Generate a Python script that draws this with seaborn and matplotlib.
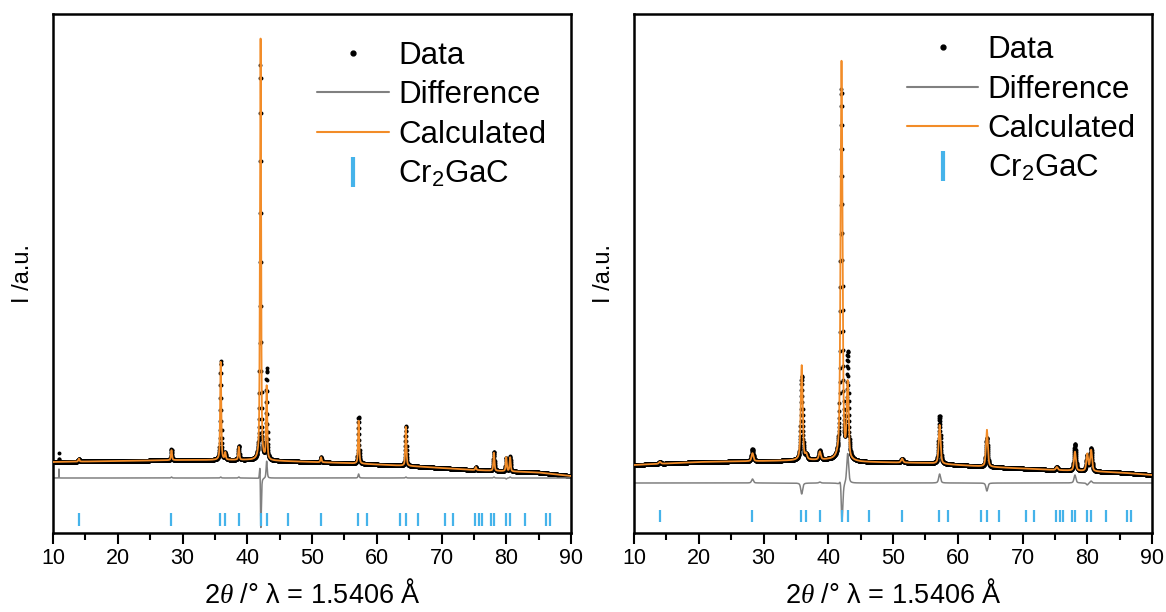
import numpy as np
import pandas as pd
import matplotlib
matplotlib.use("Agg")
import matplotlib.pyplot as plt
from matplotlib.lines import Line2D
from matplotlib.ticker import MultipleLocator
import seaborn as sns

# ---------------- data ----------------
two_theta_range = (10, 90)
step = 0.02

# background levels (a.u.) at knots
bg_knots = [10, 20, 30, 40, 45, 55, 65, 75, 85, 90]
bg_left = [71, 72, 73, 73, 72, 70, 67, 63, 60.5, 57]
bg_right = [68, 71, 72, 73, 71, 70, 66, 63, 60.5, 58]

# observed / calculated peaks (position in 2theta, height above background)
peak_pos = [14.0, 28.3, 35.9, 36.6, 38.7, 42.05, 43.0, 51.4, 57.2, 64.5, 75.3, 78.1, 80.0, 80.6]
calc_left = [3, 10, 98, 7, 13, 425, 73, 5, 43, 39, 3, 18, 14, 14]
obs_pos_left = [14.0, 28.3, 35.9, 36.6, 38.7, 42.04, 43.0, 51.4, 57.2, 64.5, 75.3, 78.1, 80.0, 80.6, 10.92]
obs_left = [3, 11, 99, 7, 14, 395, 90, 5, 47, 40, 3, 19, 13, 15, 9]
calc_right = [2, 8, 95, 5, 8, 400, 75, 4, 39, 37, 3, 19, 17, 21]
obs_pos_right = [14.0, 28.3, 35.9, 36.6, 38.7, 42.04, 43.0, 51.4, 57.2, 64.5, 75.3, 78.1, 80.0, 80.6]
obs_right = [2, 12, 84, 5, 9, 370, 105, 4, 48, 29, 3, 27, 15, 23]
fwhm_left = 0.20
fwhm_right = 0.34
diff_offset_left = 55
diff_offset_right = 50

# Cr2GaC reflection positions
refl_pos = [13.95, 28.25, 35.85, 36.55, 38.65, 42.05, 43.0, 46.3, 51.35, 57.15, 58.5,
            63.6, 64.45, 66.3, 70.5, 71.7, 75.25, 75.8, 76.3, 77.65, 78.15, 80.0,
            80.6, 82.9, 86.2, 86.7]
refl_span_left = (7.5, 20)
refl_span_right = (10.8, 23.3)

ORANGE = "#F28C28"
GREY = "#808080"
BLUE = "#45B3EA"


def profile(x, pos, hts, fwhm, bg):
    y = np.interp(x, bg_knots, bg).astype(float)
    for p, h in zip(pos, hts):
        w = fwhm if p > 11 else 0.03
        g = np.exp(-4 * np.log(2) * ((x - p) / w) ** 2)
        l = 1.0 / (1.0 + 4 * ((x - p) / w) ** 2)
        y += h * (0.5 * g + 0.5 * l)
    return y


def build(bg, obs_pos, obs_h, calc_h, fwhm, off):
    x = np.arange(two_theta_range[0], two_theta_range[1] + step / 2, step)
    calc = profile(x, peak_pos, calc_h, fwhm, bg)
    obs = profile(x, obs_pos, obs_h, fwhm, bg)
    return pd.DataFrame({"two_theta": x, "obs": obs, "calc": calc, "diff": obs - calc + off})


sns.set_theme(style="ticks")
plt.rcParams["font.family"] = ["Liberation Sans", "DejaVu Sans"]
plt.rcParams["mathtext.fontset"] = "custom"
plt.rcParams["mathtext.rm"] = "Liberation Sans"
plt.rcParams["mathtext.it"] = "Liberation Serif:italic"
plt.rcParams["text.color"] = "black"
plt.rcParams["axes.labelcolor"] = "black"
plt.rcParams["xtick.color"] = "black"
plt.rcParams["ytick.color"] = "black"

fig = plt.figure(figsize=(11.66, 6.12), dpi=100)
W, H = 1166, 612
ax_l = fig.add_axes([53 / W, (H - 533) / H, 518 / W, 519 / H])
ax_r = fig.add_axes([634 / W, (H - 533) / H, 518 / W, 519 / H])

panels = [
    (ax_l, build(bg_left, obs_pos_left, obs_left, calc_left, fwhm_left, diff_offset_left),
     refl_span_left, (0.952, 0.948)),
    (ax_r, build(bg_right, obs_pos_right, obs_right, calc_right, fwhm_right, diff_offset_right),
     refl_span_right, (0.969, 0.959)),
]

for ax, df, span, leg_anchor in panels:
    sns.scatterplot(data=df, x="two_theta", y="obs", color="black", s=8,
                    linewidth=0, ax=ax, zorder=2, legend=False)
    sns.lineplot(data=df, x="two_theta", y="diff", color=GREY, lw=1.1,
                 ax=ax, sort=False, estimator=None, zorder=2, legend=False)
    sns.lineplot(data=df, x="two_theta", y="calc", color=ORANGE, lw=1.3,
                 ax=ax, sort=False, estimator=None, zorder=3, legend=False)
    ax.vlines(refl_pos, span[0], span[1], color=BLUE, lw=1.6, zorder=2)

    ax.set_xlim(*two_theta_range)
    ax.set_ylim(0, 519)
    ax.set_xticks(range(10, 91, 10))
    ax.xaxis.set_minor_locator(MultipleLocator(5))
    ax.set_yticks([])
    ax.tick_params(axis="x", which="major", direction="out", length=8, width=1.5,
                   labelsize=15.5, colors="black", pad=3)
    ax.tick_params(axis="x", which="minor", direction="out", length=5, width=1.5)
    for s in ax.spines.values():
        s.set_linewidth(1.8)
        s.set_color("black")
    ax.set_xlabel(r"2$\theta$ /° λ = 1.5406 Å", fontsize=19.5, labelpad=8)
    ax.set_ylabel("I /a.u.", fontsize=17, labelpad=14)

    handles = [
        Line2D([], [], ls="none", marker="o", ms=3.5, color="black"),
        Line2D([], [], color=GREY, lw=1.5),
        Line2D([], [], color=ORANGE, lw=1.5),
        Line2D([], [], ls="none", marker="|", ms=22, mew=3, color=BLUE),
    ]
    labels = ["Data", "Difference", "Calculated", r"Cr$_\mathregular{2}$GaC"]
    ax.legend(handles, labels, loc="upper right", bbox_to_anchor=leg_anchor,
              frameon=False, fontsize=22.5, handlelength=2.3, handletextpad=0.3,
              labelspacing=0.3, borderpad=0, borderaxespad=0)

fig.savefig("out.png", dpi=100)
